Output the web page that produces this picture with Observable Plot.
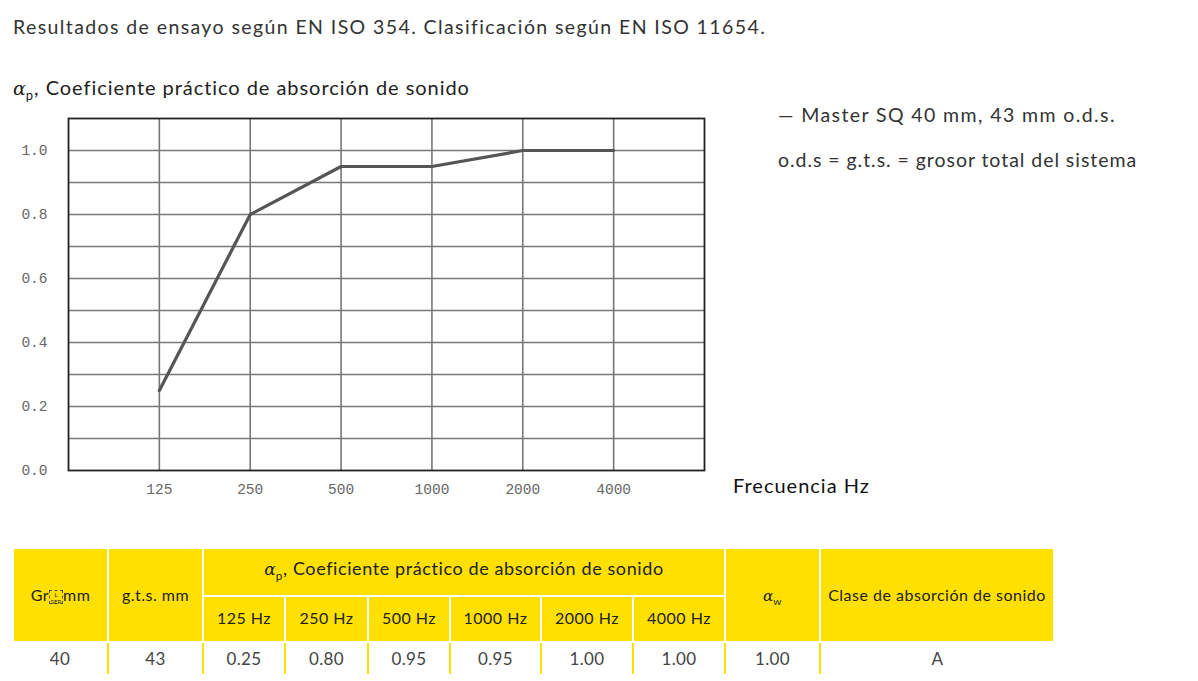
<!DOCTYPE html>
<html>
<head>
<meta charset="utf-8">
<script src="https://cdn.jsdelivr.net/npm/d3@7"></script>
<script src="https://cdn.jsdelivr.net/npm/@observablehq/plot@0.6"></script>
<style>
  html, body { margin: 0; padding: 0; background: #fff; }
  body { width: 1198px; height: 681px; position: relative; overflow: hidden; font-family: Lato, "Open Sans", sans-serif; }
  .abs { position: absolute; white-space: nowrap; }
  #intro { left: 13px; top: 15px; font-size: 19.5px; color: #333; letter-spacing: 1.4px; }
  #ytitle { left: 13px; top: 75px; font-size: 20px; color: #222; letter-spacing: 0.95px; }
  #legend1 { left: 778px; top: 103px; font-size: 19.5px; color: #333; letter-spacing: 1.4px; }
  #legend2 { left: 778px; top: 148px; font-size: 19.5px; color: #333; letter-spacing: 0.95px; }
  #xtitle { left: 733px; top: 473px; font-size: 20px; color: #111; letter-spacing: 1px; }
  #chart { position: absolute; left: 0; top: 100px; }
  .alpha { font-family: "DejaVu Serif", serif; font-style: italic; font-size: 0.95em; letter-spacing: 0; }
  sub { font-size: 0.65em; line-height: 0; }
  #tbl { position: absolute; left: 12px; top: 547px; border-collapse: collapse; table-layout: fixed; width: 1041px; font-size: 16px; letter-spacing: 0.5px; }
  #tbl th { background: #FFE000; color: #222; font-weight: normal; border: 2px solid #fff; text-align: center; padding: 0; line-height: 18px; }
  #tbl tr.r1 th { height: 46px; }
  #tbl tr.r1 th.big { padding-bottom: 8px; height: 38px; font-size: 18px; letter-spacing: 0.6px; }
  #tbl tr.r2 th { height: 46px; padding-bottom: 3px; box-sizing: border-box; }
  #tbl td { text-align: center; color: #444; font-size: 17px; height: 31px; padding: 0; letter-spacing: 0.4px; border-left: 2px solid #FFE000; border-right: 2px solid #FFE000; }
  #tbl td:first-child { border-left: none; }
  #tbl td:last-child { border-right: none; }
</style>
</head>
<body>
<div id="intro" class="abs">Resultados de ensayo según EN ISO 354. Clasificación según EN ISO 11654.</div>
<div id="ytitle" class="abs"><span class="alpha">α</span><sub>p</sub>, Coeficiente práctico de absorción de sonido</div>
<div id="legend1" class="abs"></div>
<div id="legend2" class="abs"></div>
<div id="xtitle" class="abs">Frecuencia Hz</div>
<div id="chart"></div>
<table id="tbl"></table>
<script>
// ---- data ----
const frequencies = [125, 250, 500, 1000, 2000, 4000];
const absorption = [0.25, 0.80, 0.95, 0.95, 1.00, 1.00];
const yTicks = [0.0, 0.2, 0.4, 0.6, 0.8, 1.0];
const yGrid = [0.1, 0.2, 0.3, 0.4, 0.5, 0.6, 0.7, 0.8, 0.9, 1.0];
const seriesLabel = "— Master SQ 40 mm, 43 mm o.d.s.";
const noteLabel = "o.d.s = g.t.s. = grosor total del sistema";
const thicknessMm = 40;
const gtsMm = 43;
const alphaW = "1.00";
const absorptionClass = "A";
const headerThickness = "Gr\u2028mm";
const headerGts = "g.t.s. mm";
const headerClass = "Clase de absorción de sonido";

document.getElementById("legend1").textContent = seriesLabel;
document.getElementById("legend2").textContent = noteLabel;

const data = frequencies.map((f, i) => ({f, a: absorption[i]}));

const chart = Plot.plot({
  width: 720,
  height: 410,
  marginLeft: 68,
  marginRight: 16,
  marginTop: 18,
  marginBottom: 40,
  style: {background: "transparent", overflow: "visible"},
  x: {type: "log", base: 2, domain: [62.5, 8000]},
  y: {domain: [0, 1.1]},
  marks: [
    Plot.gridY(yGrid, {stroke: "#777", strokeOpacity: 1, strokeWidth: 1.6}),
    Plot.gridX(frequencies, {stroke: "#777", strokeOpacity: 1, strokeWidth: 1.6}),
    Plot.axisY(yTicks, {tickSize: 0, tickPadding: 21, tickFormat: d3.format(".1f"),
      fontFamily: "'Liberation Mono', 'DejaVu Sans Mono', monospace", fontSize: 14.5, fill: "#666", label: null}),
    Plot.axisX(frequencies, {tickSize: 0, tickPadding: 13, tickFormat: d => String(d),
      fontFamily: "'Liberation Mono', 'DejaVu Sans Mono', monospace", fontSize: 14.5, fill: "#666", label: null}),
    Plot.frame({stroke: "#222", strokeWidth: 1.8}),
    Plot.line(data, {x: "f", y: "a", stroke: "#555", strokeWidth: 3.2})
  ]
});
document.getElementById("chart").appendChild(chart);

// ---- table ----
const colWidths = [95, 95, 82, 83, 82, 91, 92, 92, 95, 234];
const tbl = document.getElementById("tbl");
const cg = document.createElement("colgroup");
colWidths.forEach(w => { const c = document.createElement("col"); c.style.width = w + "px"; cg.appendChild(c); });
tbl.appendChild(cg);

const r1 = document.createElement("tr"); r1.className = "r1";
function th(row, html, rs, cs) {
  const c = document.createElement("th");
  c.innerHTML = html;
  if (rs) c.rowSpan = rs;
  if (cs) c.colSpan = cs;
  row.appendChild(c);
  return c;
}
th(r1, headerThickness.replace("\u2028", "<span style='display:inline-block;width:14px;height:14px;border:1px dashed #555;vertical-align:middle;font-size:6px;line-height:7px;letter-spacing:0;box-sizing:border-box'>L<br>SEP</span>"), 2);
th(r1, headerGts, 2);
th(r1, "<span class='alpha'>α</span><sub>p</sub>, Coeficiente práctico de absorción de sonido", 1, frequencies.length).className = "big";
th(r1, "<span class='alpha'>α</span><sub>w</sub>", 2);
th(r1, headerClass, 2);
tbl.appendChild(r1);

const r2 = document.createElement("tr"); r2.className = "r2";
frequencies.forEach(f => th(r2, f + " Hz"));
tbl.appendChild(r2);

const r3 = document.createElement("tr");
[thicknessMm, gtsMm, ...absorption.map(v => v.toFixed(2)), alphaW, absorptionClass].forEach(v => {
  const c = document.createElement("td"); c.textContent = v; r3.appendChild(c);
});
tbl.appendChild(r3);
</script>
</body>
</html>
